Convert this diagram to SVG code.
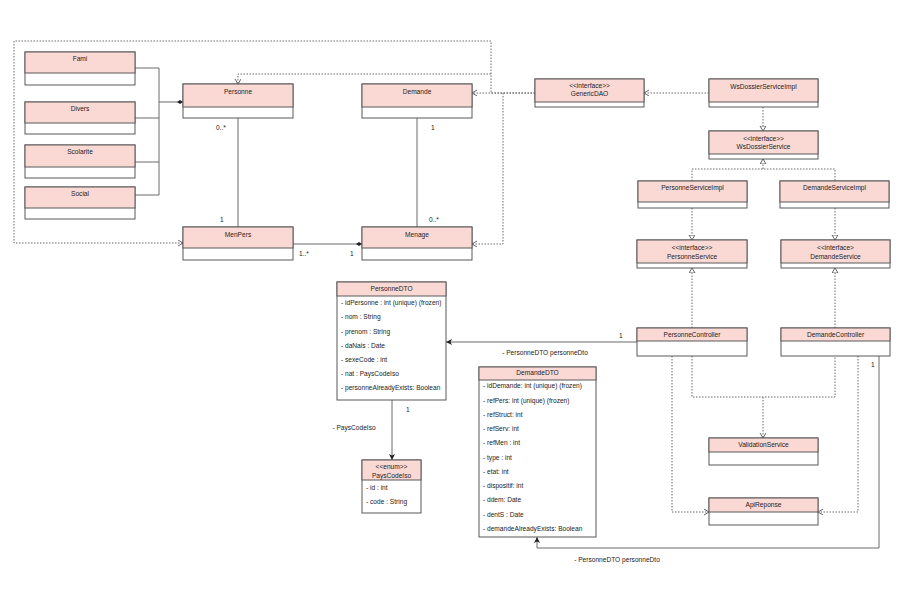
<svg xmlns="http://www.w3.org/2000/svg" width="900" height="604" viewBox="0 0 900 604">
<defs>
<style>
text{font-family:"Liberation Sans",Arial,sans-serif;font-size:6.6px;fill:#222}
.c{text-anchor:middle}
.hd{fill:#fad9d5;stroke:#595959;stroke-width:1}
.bd{fill:#ffffff;stroke:#595959;stroke-width:1}
.ln{fill:none;stroke:#6b6b6b;stroke-width:1}
.dt{fill:none;stroke:#6b6b6b;stroke-width:1;stroke-dasharray:1.5 1.5}
</style>
<marker id="open" markerUnits="userSpaceOnUse" markerWidth="8" markerHeight="8" refX="5" refY="3" orient="auto"><path d="M0,0 L5,3 L0,6" fill="none" stroke="#555" stroke-width="0.9"/></marker>
<marker id="tri" markerUnits="userSpaceOnUse" markerWidth="8" markerHeight="8" refX="5" refY="3" orient="auto"><path d="M0,0 L5,3 L0,6 Z" fill="#fff" stroke="#555" stroke-width="0.9"/></marker>
<marker id="fill" markerUnits="userSpaceOnUse" markerWidth="8" markerHeight="8" refX="6" refY="3" orient="auto"><path d="M0,0 L6,3 L0,6 L1.5,3 Z" fill="#222"/></marker>
<marker id="dia" markerUnits="userSpaceOnUse" markerWidth="8" markerHeight="8" refX="6" refY="2" orient="auto"><path d="M0,2 L3,0 L6,2 L3,4 Z" fill="#222"/></marker>
</defs>
<rect width="900" height="604" fill="#fff"/>

<g id="connectors">
<!-- aggregation tree -->
<path class="ln" d="M135,68 H159 M135,118 H159 M135,162 H159 M135,195 H159 M159,68 V195"/>
<path class="ln" d="M159,102 H183" marker-end="url(#dia)"/>
<path class="ln" d="M238,118 V227"/>
<path class="ln" d="M417,118 V227"/>
<path class="ln" d="M293,244 H362" marker-end="url(#dia)"/>
<!-- GenericDAO dependencies -->
<path class="dt" d="M535,93 H491 V41 H14 V243 H183" marker-end="url(#open)"/>
<path class="dt" d="M491,74 H238 V84" marker-end="url(#open)"/>
<path class="dt" d="M535,93 H472" marker-end="url(#open)"/>
<path class="dt" d="M503,93 V244 H472" marker-end="url(#open)"/>
<!-- services -->
<path class="dt" d="M709,93 H644" marker-end="url(#open)"/>
<path class="dt" d="M763,107 V131" marker-end="url(#tri)"/>
<path class="dt" d="M692,181 V169 H835 V181"/>
<path class="dt" d="M763,169 V159" marker-end="url(#tri)"/>
<path class="dt" d="M692,208 V240" marker-end="url(#tri)"/>
<path class="dt" d="M835,208 V240" marker-end="url(#tri)"/>
<path class="dt" d="M692,328 V268" marker-end="url(#tri)"/>
<path class="dt" d="M835,328 V268" marker-end="url(#tri)"/>
<path class="dt" d="M692,356 V397 H835 V356"/>
<path class="dt" d="M763,397 V438" marker-end="url(#open)"/>
<path class="dt" d="M672,356 V512 H709" marker-end="url(#open)"/>
<path class="dt" d="M858,356 V512 H818" marker-end="url(#open)"/>
<!-- associations -->
<path class="ln" d="M637,342 H446" marker-end="url(#fill)"/>
<path class="ln" d="M879,356 V548 H537 V537" marker-end="url(#fill)"/>
<path class="ln" d="M392,400 V460" marker-end="url(#fill)"/>
<!-- labels -->
<text x="216" y="130">0..*</text>
<text x="220" y="222">1</text>
<text x="431" y="130">1</text>
<text x="429" y="222">0..*</text>
<text x="299" y="256">1..*</text>
<text x="350" y="256">1</text>
<text x="619" y="338">1</text>
<text class="c" x="545" y="355">- PersonneDTO personneDto</text>
<text x="871" y="367">1</text>
<text class="c" x="617" y="562">- PersonneDTO personneDto</text>
<text x="406" y="412">1</text>
<text class="c" x="354" y="430">- PaysCodeIso</text>
</g>

<g id="Fami"><rect class="bd" x="25" y="52" width="110" height="33"/><rect class="hd" x="25" y="52" width="110" height="21"/><text class="c" x="80" y="61">Fami</text></g>
<g id="Divers"><rect class="bd" x="25" y="102" width="110" height="32"/><rect class="hd" x="25" y="102" width="110" height="21"/><text class="c" x="80" y="111">Divers</text></g>
<g id="Scolarite"><rect class="bd" x="25" y="145" width="110" height="33"/><rect class="hd" x="25" y="145" width="110" height="22"/><text class="c" x="80" y="154">Scolarite</text></g>
<g id="Social"><rect class="bd" x="25" y="187" width="110" height="32"/><rect class="hd" x="25" y="187" width="110" height="21"/><text class="c" x="80" y="196">Social</text></g>
<g id="Personne"><rect class="bd" x="183" y="84" width="110" height="34"/><rect class="hd" x="183" y="84" width="110" height="23"/><text class="c" x="238" y="94">Personne</text></g>
<g id="Demande"><rect class="bd" x="362" y="84" width="110" height="34"/><rect class="hd" x="362" y="84" width="110" height="23"/><text class="c" x="417" y="94">Demande</text></g>
<g id="MenPers"><rect class="bd" x="183" y="227" width="110" height="33"/><rect class="hd" x="183" y="227" width="110" height="21"/><text class="c" x="238" y="237">MenPers</text></g>
<g id="Menage"><rect class="bd" x="362" y="227" width="110" height="33"/><rect class="hd" x="362" y="227" width="110" height="21"/><text class="c" x="417" y="237">Menage</text></g>
<g id="GenericDAO"><rect class="bd" x="535" y="79" width="109" height="28"/><rect class="hd" x="535" y="79" width="109" height="23"/><text class="c" x="589.5" y="88">&lt;&lt;interface&gt;&gt;</text><text class="c" x="589.5" y="96">GenericDAO</text></g>
<g id="WsDossierServiceImpl"><rect class="bd" x="709" y="79" width="109" height="28"/><rect class="hd" x="709" y="79" width="109" height="23"/><text class="c" x="763.5" y="89">WsDossierServiceImpl</text></g>
<g id="WsDossierService"><rect class="bd" x="709" y="131" width="109" height="28"/><rect class="hd" x="709" y="131" width="109" height="23"/><text class="c" x="763.5" y="141">&lt;&lt;interface&gt;&gt;</text><text class="c" x="763.5" y="149">WsDossierService</text></g>
<g id="PersonneServiceImpl"><rect class="bd" x="638" y="181" width="109" height="27"/><rect class="hd" x="638" y="181" width="109" height="21"/><text class="c" x="692.5" y="190">PersonneServiceImpl</text></g>
<g id="DemandeServiceImpl"><rect class="bd" x="780" y="181" width="109" height="27"/><rect class="hd" x="780" y="181" width="109" height="21"/><text class="c" x="834.5" y="190">DemandeServiceImpl</text></g>
<g id="PersonneService"><rect class="bd" x="637" y="240" width="110" height="28"/><rect class="hd" x="637" y="240" width="110" height="23"/><text class="c" x="692" y="250">&lt;&lt;interface&gt;&gt;</text><text class="c" x="692" y="259">PersonneService</text></g>
<g id="DemandeService"><rect class="bd" x="781" y="240" width="109" height="28"/><rect class="hd" x="781" y="240" width="109" height="23"/><text class="c" x="835.5" y="250">&lt;&lt;interface&gt;</text><text class="c" x="835.5" y="259">DemandeService</text></g>
<g id="PersonneController"><rect class="bd" x="637" y="328" width="110" height="28"/><rect class="hd" x="637" y="328" width="110" height="13"/><text class="c" x="692" y="337">PersonneController</text></g>
<g id="DemandeController"><rect class="bd" x="781" y="328" width="109" height="28"/><rect class="hd" x="781" y="328" width="109" height="13"/><text class="c" x="835.5" y="337">DemandeController</text></g>
<g id="ValidationService"><rect class="bd" x="709" y="438" width="109" height="27"/><rect class="hd" x="709" y="438" width="109" height="14"/><text class="c" x="763.5" y="447">ValidationService</text></g>
<g id="ApiReponse"><rect class="bd" x="709" y="498" width="109" height="27"/><rect class="hd" x="709" y="498" width="109" height="14"/><text class="c" x="763.5" y="507">ApiReponse</text></g>
<g id="PersonneDTO"><rect class="bd" x="337" y="282" width="109" height="118"/><rect class="hd" x="337" y="282" width="109" height="14"/><text class="c" x="391.5" y="291">PersonneDTO</text>
<text x="341" y="305">- idPersonne : int (unique) (frozen)</text>
<text x="341" y="319">- nom : String</text>
<text x="341" y="334">- prenom : String</text>
<text x="341" y="348">- daNais : Date</text>
<text x="341" y="362">- sexeCode : int</text>
<text x="341" y="376">- nat : PaysCodeIso</text>
<text x="341" y="390">- personneAlreadyExists: Boolean</text></g>
<g id="DemandeDTO"><rect class="bd" x="479" y="367" width="117" height="170"/><rect class="hd" x="479" y="367" width="117" height="13"/><text class="c" x="537.5" y="375">DemandeDTO</text>
<text x="483" y="388">- idDemande: int (unique) (frozen)</text>
<text x="483" y="403">- refPers: int (unique) (frozen)</text>
<text x="483" y="417">- refStruct: int</text>
<text x="483" y="431">- refServ: int</text>
<text x="483" y="445">- refMen : int</text>
<text x="483" y="460">- type : int</text>
<text x="483" y="474">- etat: int</text>
<text x="483" y="488">- dispositif: int</text>
<text x="483" y="502">- ddem: Date</text>
<text x="483" y="517">- dentS : Date</text>
<text x="483" y="531">- demandeAlreadyExists: Boolean</text></g>
<g id="PaysCodeIso"><rect class="bd" x="362" y="460" width="59" height="53"/><rect class="hd" x="362" y="460" width="59" height="20"/><text class="c" x="391.5" y="469">&lt;&lt;enum&gt;&gt;</text><text class="c" x="391.5" y="478">PaysCodeIso</text>
<text x="366" y="490">- id : int</text>
<text x="366" y="504">- code : String</text></g>
</svg>
